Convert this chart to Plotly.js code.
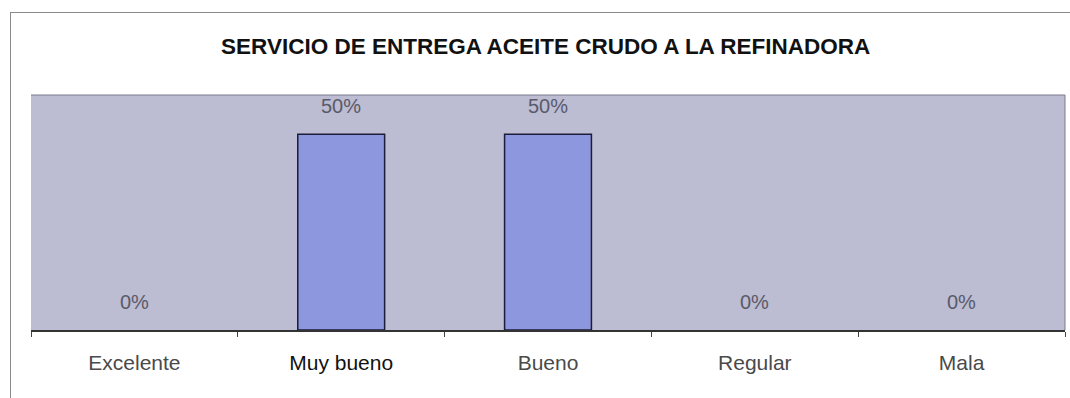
<!DOCTYPE html>
<html>
<head>
<meta charset="utf-8">
<script src="https://cdn.plot.ly/plotly-3.0.1.min.js"></script>
<style>
  html, body { margin: 0; padding: 0; background: #ffffff; }
  #wrap { position: relative; width: 1070px; height: 398px; }
  #frame { position: absolute; left: 10px; top: 12px; width: 1070px; height: 400px;
           border-top: 1px solid #8a8a8a; border-left: 1px solid #8a8a8a; pointer-events: none; }
  #chart { position: absolute; left: 0; top: 0; width: 1070px; height: 398px; }
</style>
</head>
<body>
<div id="wrap">
  <div id="chart"></div>
  <div id="frame"></div>
</div>
<script>
const categories = ["Excelente", "Muy bueno", "Bueno", "Regular", "Mala"];
const values = [0, 0.5, 0.5, 0, 0];
const labels = ["0%", "50%", "50%", "0%", "0%"];
const tickLabels = ["Excelente", "<span style='color:#111111'>Muy bueno</span>", "Bueno", "Regular", "Mala"];

const trace = {
  type: "bar",
  x: categories,
  y: values,
  marker: { color: "#8c97de", line: { color: "#1c1c3c", width: values.map(v => v > 0 ? 1.5 : 0) } },
  hoverinfo: "skip"
};

const annotations = categories.map((c, i) => ({
  x: c, y: values[i], xref: "x", yref: "y",
  text: labels[i], showarrow: false,
  yanchor: "bottom", yshift: 15,
  font: { family: "Liberation Sans, Arial, sans-serif", size: 20, color: "#5a5a6a" }
}));

const layout = {
  width: 1070, height: 398,
  margin: { l: 31, r: 5, t: 95, b: 68 },
  paper_bgcolor: "#ffffff",
  plot_bgcolor: "#bcbcd2",
  bargap: 0.58,
  showlegend: false,
  title: {
    text: "<b>SERVICIO DE ENTREGA ACEITE CRUDO A LA REFINADORA</b>",
    x: 0.51, xanchor: "center", y: 0.885, yanchor: "middle",
    font: { family: "Liberation Sans, Arial, sans-serif", size: 22.5, color: "#111111" }
  },
  xaxis: {
    type: "category",
    tickmode: "array", tickvals: categories, ticktext: tickLabels,
    tickson: "boundaries", ticks: "outside", ticklen: 5, tickcolor: "#444444",
    showline: true, linecolor: "#333333", linewidth: 1.5,
    showgrid: false, zeroline: false,
    tickfont: { family: "Liberation Sans, Arial, sans-serif", size: 21, color: "#4a4a4a" },
    ticklabelstandoff: 13
  },
  yaxis: {
    range: [0, 0.6],
    showticklabels: false, showgrid: false, zeroline: false, showline: false, ticks: ""
  },
  shapes: [
    { type: "line", xref: "paper", yref: "paper", x0: 0, x1: 1, y0: 1, y1: 1, line: { color: "#7a7a8a", width: 1 } },
    { type: "line", xref: "paper", yref: "paper", x0: 1, x1: 1, y0: 0, y1: 1, line: { color: "#7a7a8a", width: 1 } }
  ],
  annotations: annotations
};

Plotly.newPlot("chart", [trace], layout, { displayModeBar: false, staticPlot: true });
</script>
</body>
</html>
